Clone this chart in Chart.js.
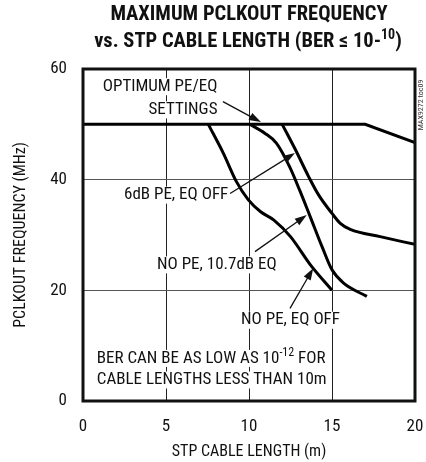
<!DOCTYPE html>
<html>
<head>
<meta charset="utf-8">
<script src="https://cdn.jsdelivr.net/npm/chart.js@4.4.0/dist/chart.umd.min.js"></script>
<style>
html, body { margin: 0; padding: 0; background: #fff; }
</style>
</head>
<body>
<canvas id="line-chart" width="426" height="462"></canvas>
<script>
// values (x = cable length in m, y = MHz)
optX = [0, 17, 20]
optY = [50, 50, 46.7]
pe6X = [12.0, 12.8, 13.6, 14.2, 15.0, 15.5, 16.1, 17.9, 20]
pe6Y = [50, 45.4, 40.5, 37.2, 33.9, 32.1, 31.0, 29.7, 28.3]
eq107X = [10.05, 10.95, 11.65, 12.45, 13.05, 13.65, 14.4, 15.0, 15.7, 17.1]
eq107Y = [50, 48.4, 46.6, 42.3, 38.1, 33.6, 27.9, 23.7, 21.3, 18.9]
offX = [7.55, 8.45, 9.25, 9.95, 10.7, 11.5, 12.5, 13.7, 15.0]
offY = [50, 44.8, 39.6, 36.4, 34.2, 32.7, 29.7, 24.6, 20.0]
xTicks = [0, 5, 10, 15, 20]
yTicks = [0, 20, 40, 60]

FONT = '"Liberation Sans Narrow", "Roboto Condensed", "DejaVu Sans Condensed", "Liberation Sans", sans-serif'

// text labels and arrows, placed in axis units
notes = [
    { parts: [['OPTIMUM PE/EQ']], x: 8.1, y: 56.8, align: 'right' },
    { parts: [['SETTINGS']], x: 8.1, y: 52.6, align: 'right' },
    { parts: [['6dB PE, EQ OFF']], x: 8.75, y: 37.2, align: 'right' },
    { parts: [['NO PE, 10.7dB EQ']], x: 11.67, y: 24.6, align: 'right' },
    { parts: [['NO PE, EQ OFF']], x: 15.48, y: 14.6, align: 'right' },
    { parts: [['BER CAN BE AS LOW AS 10'], ['-12', 1], [' FOR']], x: 0.83, y: 7.7, align: 'left' },
    { parts: [['CABLE LENGTHS LESS THAN 10m']], x: 0.83, y: 3.8, align: 'left' }
]
arrows = [
    [8.43, 54.1, 10.72, 50.4],
    [8.86, 37.5, 12.77, 44.8],
    [10.36, 27.0, 13.48, 33.6],
    [12.47, 16.75, 13.87, 24.0]
]

function pts(xs, ys) {
    return xs.map(function (x, i) { return { x: x, y: ys[i] } })
}

function partsWidth(ctx, parts, size, weight) {
    var w = 0
    parts.forEach(function (p) {
        ctx.font = (weight || '') + ' ' + (p[1] ? Math.round(size * 0.7) : size) + 'px ' + FONT
        w += ctx.measureText(p[0]).width
    })
    return w
}

function drawParts(ctx, parts, x, y, size, weight, align, box) {
    var w = partsWidth(ctx, parts, size, weight)
    var left = align == 'right' ? x - w : (align == 'center' ? x - w / 2 : x)
    if (box) {
        ctx.fillStyle = '#fff'
        ctx.fillRect(left - 2, y - size * 0.5, w + 4, size)
    }
    ctx.fillStyle = '#111'
    ctx.textBaseline = 'middle'
    ctx.textAlign = 'left'
    parts.forEach(function (p) {
        var s = p[1] ? Math.round(size * 0.7) : size
        ctx.font = (weight || '') + ' ' + s + 'px ' + FONT
        ctx.fillText(p[0], left, p[1] ? y - size * 0.33 : y)
        left += ctx.measureText(p[0]).width
    })
}

notesPlugin = {
    id: 'notes',
    beforeDatasetsDraw: function (chart) {
        var ctx = chart.ctx, xs = chart.scales.x, ys = chart.scales.y
        ctx.save()
        notes.forEach(function (n) {
            drawParts(ctx, n.parts, xs.getPixelForValue(n.x), ys.getPixelForValue(n.y), 17, '', n.align, true)
        })
        ctx.restore()
    },
    afterDatasetsDraw: function (chart) {
        var ctx = chart.ctx, xs = chart.scales.x, ys = chart.scales.y, a = chart.chartArea
        ctx.save()
        ctx.strokeStyle = '#111'
        ctx.fillStyle = '#111'
        arrows.forEach(function (r) {
            var x1 = xs.getPixelForValue(r[0]), y1 = ys.getPixelForValue(r[1])
            var x2 = xs.getPixelForValue(r[2]), y2 = ys.getPixelForValue(r[3])
            var ang = Math.atan2(y2 - y1, x2 - x1)
            ctx.lineWidth = 1.3
            ctx.beginPath()
            ctx.moveTo(x1, y1)
            ctx.lineTo(x2 - 9 * Math.cos(ang), y2 - 9 * Math.sin(ang))
            ctx.stroke()
            ctx.beginPath()
            ctx.moveTo(x2, y2)
            ctx.lineTo(x2 - 12 * Math.cos(ang) + 4 * Math.sin(ang), y2 - 12 * Math.sin(ang) - 4 * Math.cos(ang))
            ctx.lineTo(x2 - 12 * Math.cos(ang) - 4 * Math.sin(ang), y2 - 12 * Math.sin(ang) + 4 * Math.cos(ang))
            ctx.closePath()
            ctx.fill()
        })
        // frame
        ctx.lineWidth = 3
        ctx.strokeRect(a.left, a.top, a.right - a.left, a.bottom - a.top)
        // title
        drawParts(ctx, [['MAXIMUM PCLKOUT FREQUENCY']], 249, 15, 20.5, 'bold', 'center', false)
        drawParts(ctx, [['vs. STP CABLE LENGTH (BER \u2264 10-'], ['10', 1], [')']], 248, 42, 20.5, 'bold', 'center', false)
        // figure id
        ctx.translate(421, 105)
        ctx.rotate(-Math.PI / 2)
        ctx.font = '8px ' + FONT
        ctx.textAlign = 'center'
        ctx.textBaseline = 'middle'
        ctx.fillStyle = '#333'
        ctx.fillText('MAX9272 toc09', 0, 0)
        ctx.restore()
    }
}

function line(data, smooth) {
    return {
        data: data,
        borderColor: '#000',
        borderWidth: 3,
        pointRadius: 0,
        fill: false,
        cubicInterpolationMode: smooth ? 'monotone' : 'default',
        tension: 0
    }
}

new Chart(document.getElementById('line-chart'), {
    type: 'line',
    data: {
        datasets: [
            line(pts(optX, optY), false),
            line(pts(pe6X, pe6Y), true),
            line(pts(eq107X, eq107Y), true),
            line(pts(offX, offY), true)
        ]
    },
    options: {
        responsive: false,
        animation: false,
        devicePixelRatio: 1,
        layout: { padding: { top: 69, right: 11, left: 0, bottom: 0 } },
        plugins: { legend: { display: false }, tooltip: { enabled: false } },
        scales: {
            x: {
                type: 'linear', min: 0, max: 20,
                afterBuildTicks: function (s) { s.ticks = xTicks.map(function (v) { return { value: v } }) },
                afterFit: function (s) { s.height = 61; s.paddingLeft = 0; s.paddingRight = 0 },
                ticks: { color: '#111', padding: 16, font: { family: FONT, size: 17 } },
                grid: { color: '#222', lineWidth: 1, drawTicks: false },
                border: { display: false },
                title: { display: true, text: 'STP CABLE LENGTH (m)', color: '#111', padding: { top: 2, bottom: 0 }, font: { family: FONT, size: 16 } }
            },
            y: {
                min: 0, max: 60,
                afterBuildTicks: function (s) { s.ticks = yTicks.map(function (v) { return { value: v } }) },
                afterFit: function (s) { s.width = 83 },
                ticks: { color: '#111', padding: 16, font: { family: FONT, size: 17 } },
                grid: { color: '#555', lineWidth: 1, drawTicks: false },
                border: { display: false },
                title: { display: true, text: 'PCLKOUT FREQUENCY (MHz)', color: '#111', padding: { top: 11, bottom: 0 }, font: { family: FONT, size: 16 } }
            }
        }
    },
    plugins: [notesPlugin]
})
</script>
</body>
</html>
